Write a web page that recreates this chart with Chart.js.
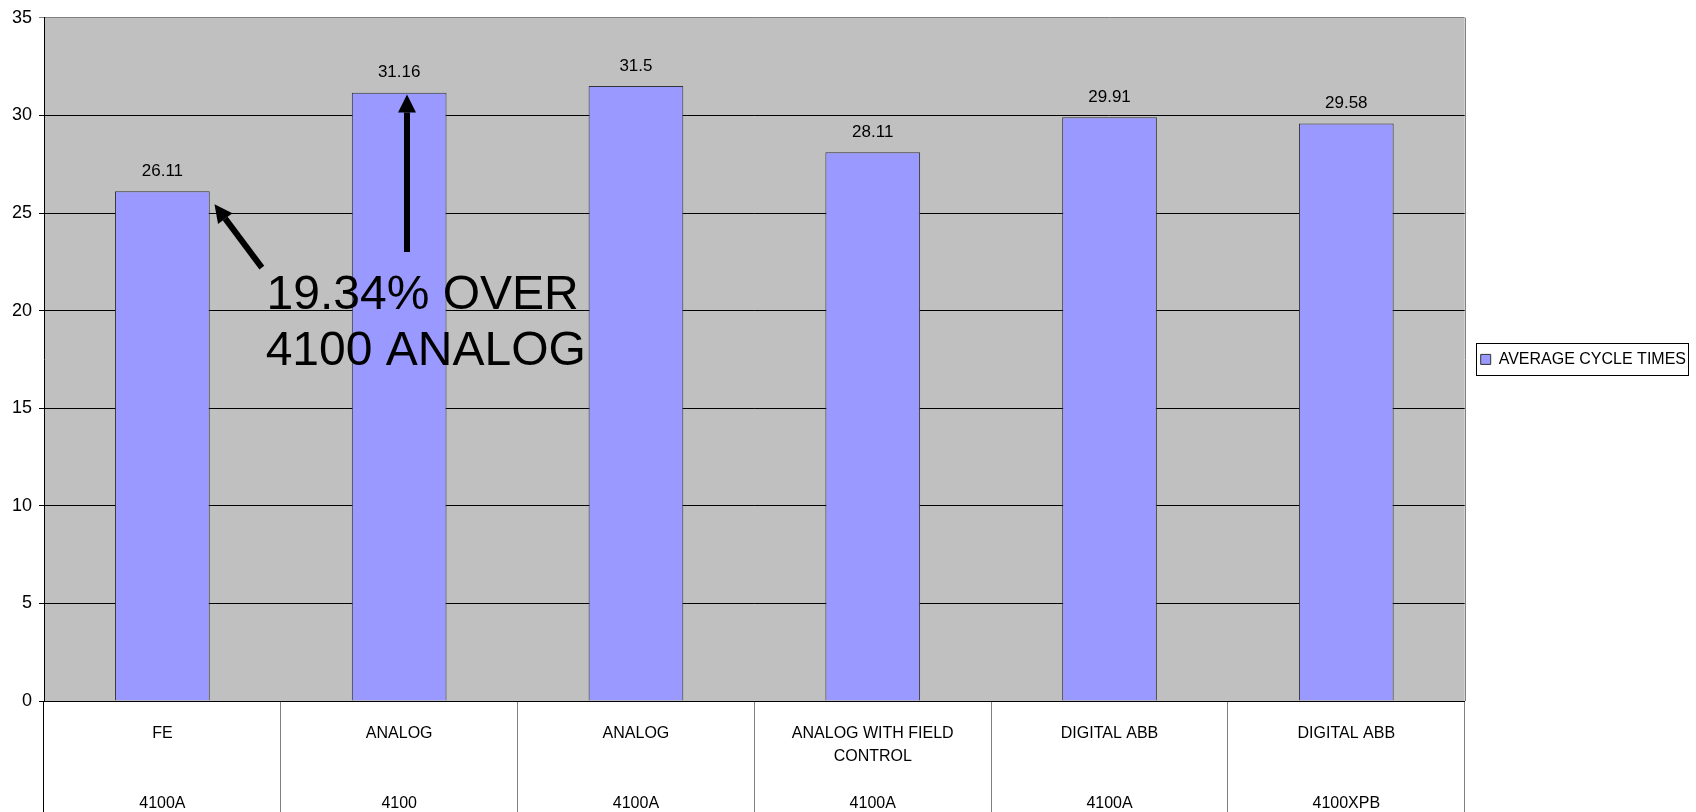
<!DOCTYPE html>
<html>
<head>
<meta charset="utf-8">
<script src="https://cdn.jsdelivr.net/npm/chart.js@4/dist/chart.umd.min.js"></script>
<style>
  html, body { margin: 0; padding: 0; background: #ffffff; }
  #wrap { width: 1696px; height: 812px; }
</style>
</head>
<body>
<div id="wrap"><canvas id="c" width="1696" height="812"></canvas></div>
<script>
// ---- data ----
const systemTypes = [['FE'], ['ANALOG'], ['ANALOG'], ['ANALOG WITH FIELD', 'CONTROL'], ['DIGITAL ABB'], ['DIGITAL ABB']];
const models = ['4100A', '4100', '4100A', '4100A', '4100A', '4100XPB'];
const averageCycleTimes = [26.11, 31.16, 31.5, 28.11, 29.91, 29.58];
const yTicks = [0, 5, 10, 15, 20, 25, 30, 35];
const seriesName = 'AVERAGE CYCLE TIMES';
const noteLines = ['19.34% OVER', '4100 ANALOG'];

// two-level category labels: system type on top, model number at the bottom
const categoryLabels = systemTypes.map((t, i) => {
  const lines = t.slice();
  while (lines.length < 3) lines.push('');
  lines.push(models[i]);
  return lines;
});

const FONT = '"Liberation Sans", Arial, sans-serif';

// callout placed in category-index / value units
const callout = {
  text: [{ index: 0.44, value: 20.1 }, { index: 0.436, value: 17.2 }],
  arrows: [
    { from: { index: 0.42, value: 22.2 }, to: { index: 0.22, value: 25.45 } },
    { from: { index: 1.033, value: 23.0 }, to: { index: 1.033, value: 31.07 } }
  ]
};

function idxPx(xs, index) {
  const p0 = xs.getPixelForValue(0), p1 = xs.getPixelForValue(1);
  return p0 + index * (p1 - p0);
}

const plotBackground = {
  id: 'plotBackground',
  beforeDraw(chart) {
    const { ctx, chartArea: a } = chart;
    ctx.save();
    ctx.fillStyle = '#c0c0c0';
    ctx.fillRect(a.left, a.top, a.right - a.left, a.bottom - a.top);
    ctx.strokeStyle = '#808080';
    ctx.lineWidth = 1;
    ctx.beginPath();
    ctx.moveTo(Math.round(a.right) + 0.5, a.top);
    ctx.lineTo(Math.round(a.right) + 0.5, a.bottom);
    ctx.stroke();
    ctx.restore();
  }
};

const valueLabels = {
  id: 'valueLabels',
  afterDatasetsDraw(chart) {
    const { ctx } = chart;
    const meta = chart.getDatasetMeta(0);
    ctx.save();
    ctx.fillStyle = '#000';
    ctx.font = '17px ' + FONT;
    ctx.textAlign = 'center';
    ctx.textBaseline = 'middle';
    meta.data.forEach((bar, i) => {
      ctx.fillText(String(averageCycleTimes[i]), bar.x, bar.y - 20);
    });
    ctx.restore();
  }
};

const calloutPlugin = {
  id: 'callout',
  afterDatasetsDraw(chart) {
    const { ctx } = chart;
    const xs = chart.scales.x, ys = chart.scales.y;
    ctx.save();
    ctx.fillStyle = '#000';
    ctx.strokeStyle = '#000';
    ctx.font = '48px ' + FONT;
    ctx.textAlign = 'left';
    ctx.textBaseline = 'alphabetic';
    callout.text.forEach((p, i) => {
      ctx.fillText(noteLines[i], idxPx(xs, p.index), ys.getPixelForValue(p.value));
    });
    callout.arrows.forEach(a => {
      const x1 = idxPx(xs, a.from.index), y1 = ys.getPixelForValue(a.from.value);
      const x2 = idxPx(xs, a.to.index), y2 = ys.getPixelForValue(a.to.value);
      const ang = Math.atan2(y2 - y1, x2 - x1);
      const headLen = 18, headHalf = 9;
      const bx = x2 - headLen * Math.cos(ang), by = y2 - headLen * Math.sin(ang);
      ctx.lineWidth = 6;
      ctx.lineCap = 'butt';
      ctx.beginPath();
      ctx.moveTo(x1, y1);
      ctx.lineTo(bx, by);
      ctx.stroke();
      ctx.beginPath();
      ctx.moveTo(x2, y2);
      ctx.lineTo(bx + headHalf * Math.sin(ang), by - headHalf * Math.cos(ang));
      ctx.lineTo(bx - headHalf * Math.sin(ang), by + headHalf * Math.cos(ang));
      ctx.closePath();
      ctx.fill();
    });
    ctx.restore();
  }
};

const legendFrame = {
  id: 'legendFrame',
  afterDraw(chart) {
    const lg = chart.legend;
    if (!lg || !lg.legendHitBoxes || !lg.legendHitBoxes.length) return;
    const h = lg.legendHitBoxes[0];
    const { ctx } = chart;
    ctx.save();
    ctx.strokeStyle = '#000';
    ctx.lineWidth = 1;
    const l = Math.round(h.left - 5) + 0.5, t = Math.round(h.top + h.height / 2 - 16) + 0.5;
    ctx.strokeRect(l, t, Math.round(h.width + 7), 32);
    ctx.restore();
  }
};

new Chart(document.getElementById('c'), {
  type: 'bar',
  data: {
    labels: categoryLabels,
    datasets: [{
      label: seriesName,
      data: averageCycleTimes,
      backgroundColor: '#9999ff',
      borderColor: '#333333',
      borderWidth: 1,
      borderSkipped: 'bottom',
      barPercentage: 0.4,
      categoryPercentage: 1.0
    }]
  },
  options: {
    responsive: false,
    animation: false,
    devicePixelRatio: 1,
    layout: { padding: { top: 15, right: 0, bottom: 0, left: 0 } },
    plugins: {
      tooltip: { enabled: false },
      legend: {
        position: 'right',
        fullSize: false,
        labels: {
          boxWidth: 10,
          boxHeight: 10,
          padding: 16,
          color: '#000',
          font: { family: FONT, size: 16 }
        }
      }
    },
    scales: {
      x: {
        offset: true,
        grid: {
          offset: true,
          drawOnChartArea: false,
          drawTicks: true,
          tickLength: 111,
          color: ctx => (ctx.index === 0 ? '#000000' : '#808080'),
          lineWidth: 1
        },
        border: { display: true, color: '#000', width: 1 },
        ticks: {
          autoSkip: false,
          maxRotation: 0,
          minRotation: 0,
          padding: -90,
          color: '#000',
          font: { family: FONT, size: 16, lineHeight: 1.46 }
        },
        afterFit: s => { s.height = 111; }
      },
      y: {
        min: 0,
        max: 35,
        afterBuildTicks: s => { s.ticks = yTicks.map(v => ({ value: v })); },
        grid: {
          color: ctx => (ctx.tick && ctx.tick.value === 35 ? '#808080' : '#000000'),
          lineWidth: 1,
          tickLength: 5
        },
        border: { display: true, color: '#000', width: 1 },
        ticks: {
          padding: 7,
          color: '#000',
          font: { family: FONT, size: 18 }
        },
        afterFit: s => { s.width = 44; }
      }
    }
  },
  plugins: [plotBackground, valueLabels, calloutPlugin, legendFrame]
});
</script>
</body>
</html>
